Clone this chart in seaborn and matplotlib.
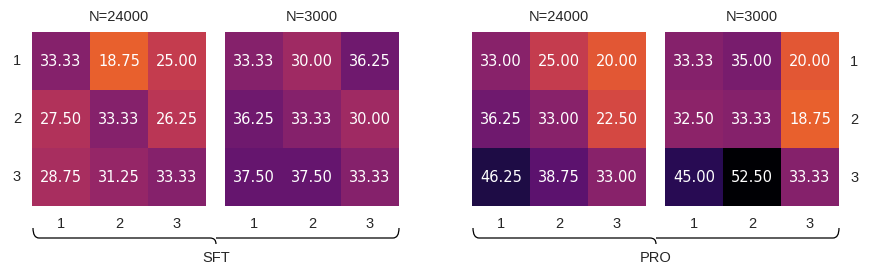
import numpy as np
import matplotlib
matplotlib.use('Agg')
import matplotlib.pyplot as plt
from matplotlib.path import Path
from matplotlib.patches import PathPatch
import seaborn as sb

# data
etiketes = ['1', '2', '3']
virsraksti = ['N=24000', 'N=3000', 'N=24000', 'N=3000']
grupas = ['SFT', 'PRO']

sft_24000 = [[33.33, 18.75, 25.00],
             [27.50, 33.33, 26.25],
             [28.75, 31.25, 33.33]]
sft_3000 = [[33.33, 30.00, 36.25],
            [36.25, 33.33, 30.00],
            [37.50, 37.50, 33.33]]
pro_24000 = [[33.00, 25.00, 20.00],
             [36.25, 33.00, 22.50],
             [46.25, 38.75, 33.00]]
pro_3000 = [[33.33, 35.00, 20.00],
            [32.50, 33.33, 18.75],
            [45.00, 52.50, 33.33]]

sb.set_style('white')
plt.rcParams['font.family'] = ['Liberation Sans', 'DejaVu Sans']

W, H = 872, 278
fig = plt.figure(figsize=(W / 100, H / 100), dpi=100)

# axes novietojums pikseļos (kreisā mala, augša, izmērs)
kreisie = [32, 225, 472, 665]
augsa, izmers = 32, 174
fs = 10.5

matricas = [sft_24000, sft_3000, pro_24000, pro_3000]
visas = np.array(matricas)

for i, (m, x0) in enumerate(zip(matricas, kreisie)):
    ax = fig.add_axes([x0 / W, 1 - (augsa + izmers) / H, izmers / W, izmers / H])
    sb.heatmap(np.array(m), ax=ax, cmap='inferno_r', vmin=0, vmax=visas.max(),
               annot=True, fmt='.2f', cbar=False,
               xticklabels=etiketes, yticklabels=etiketes,
               annot_kws={'color': 'white', 'fontsize': 10.5, 'family': 'DejaVu Sans'})
    ax.set_title(virsraksti[i], fontsize=fs, pad=8)
    ax.tick_params(axis='both', length=0, labelsize=fs)
    ax.tick_params(axis='x', pad=8)
    ax.tick_params(axis='y', pad=8, rotation=0)
    if i == 3:
        ax.yaxis.tick_right()
        ax.tick_params(axis='y', length=0, pad=8, labelsize=fs, rotation=0)
    elif i != 0:
        ax.set_yticks([])


# figūriekava zem grupām
overlay = fig.add_axes([0, 0, 1, 1])
overlay.set_xlim(0, W)
overlay.set_ylim(H, 0)
overlay.axis('off')


def iekava(xa, xb, y_aug, y_lin, y_gals, r=6):
    xm = (xa + xb) / 2
    verts = [(xa, y_aug), (xa, y_lin), (xa + r, y_lin),
             (xm - r, y_lin), (xm, y_lin), (xm, y_gals),
             (xm, y_lin), (xm + r, y_lin),
             (xb - r, y_lin), (xb, y_lin), (xb, y_aug)]
    codes = [Path.MOVETO, Path.CURVE3, Path.CURVE3,
             Path.LINETO, Path.CURVE3, Path.CURVE3,
             Path.MOVETO, Path.CURVE3,
             Path.LINETO, Path.CURVE3, Path.CURVE3]
    overlay.add_patch(PathPatch(Path(verts, codes), fill=False, lw=0.9, color='black'))


for (xa, xb), nosauk in zip([(33, 399), (473, 839)], grupas):
    iekava(xa, xb, 228, 238, 244)
    overlay.text((xa + xb) / 2, 258, nosauk, ha='center', va='center', fontsize=fs)

plt.savefig('out.png', dpi=100)
